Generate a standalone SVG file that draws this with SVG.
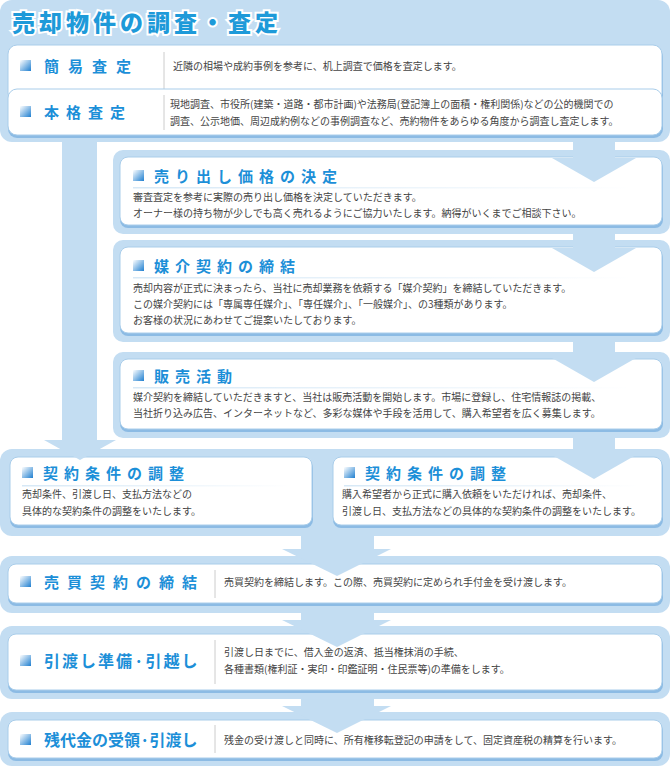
<svg xmlns="http://www.w3.org/2000/svg" width="670" height="766" viewBox="0 0 670 766">
<defs>
<linearGradient id="ic" x1="0" y1="0" x2="1" y2="1"><stop offset="0" stop-color="#ffffff"/><stop offset="1" stop-color="#1f7fd0"/></linearGradient>
<linearGradient id="ln" x1="0" x2="1"><stop offset="0" stop-color="#d6e8f6"/><stop offset="1" stop-color="#ffffff"/></linearGradient>
<style>
.fr{fill:#c3ddf2}
.bx{fill:#fff;stroke:#a9cdea;stroke-width:1}
.sh{fill:#8cbbe4}
.lb{font-family:"Noto Sans CJK JP",sans-serif;font-weight:bold;font-size:15px;fill:#1c8fd8;letter-spacing:6px}
.tx{font-family:"Noto Sans CJK JP",sans-serif;font-size:10px;fill:#444}
.dv{stroke:#ccc;stroke-width:1}
.ar{fill:#c3ddf2}
</style>
<g id="icon"><rect x="0" y="0" width="11" height="11" fill="url(#ic)"/></g>
</defs>
<g id="top">
<rect class="fr" x="0" y="0" width="670" height="142" rx="12"/>
<text x="12" y="31" font-family="Noto Sans CJK JP,sans-serif" font-weight="900" font-size="23" fill="#1e9ad9" stroke="#fff" stroke-width="4" paint-order="stroke" letter-spacing="4">売却物件の調査・査定</text>
</g>
<g id="kani">
<rect class="sh" x="8" y="48" width="655" height="56" rx="9"/>
<rect class="bx" x="8" y="45" width="654" height="57" rx="9"/>
<use href="#icon" x="20" y="60"/>
<text class="lb" x="44" y="72" style="letter-spacing:9px">簡易査定</text>
<line class="dv" x1="164" y1="52" x2="164" y2="97"/>
<text class="tx" x="173" y="70">近隣の相場や成約事例を参考に、机上調査で価格を査定します。</text>
</g>
<g id="honkaku">
<rect class="sh" x="8" y="92" width="655" height="46" rx="9"/>
<rect class="bx" x="8" y="89" width="654" height="46" rx="9"/>
<use href="#icon" x="20" y="106"/>
<text class="lb" x="44" y="118" style="letter-spacing:7px">本格査定</text>
<line class="dv" x1="164" y1="95" x2="164" y2="130"/>
<text class="tx" x="170" y="108">現地調査、市役所(建築・道路・都市計画)や法務局(登記簿上の面積・権利関係)などの公的機関での</text>
<text class="tx" x="170" y="125">調査、公示地価、周辺成約例などの事例調査など、売約物件をあらゆる角度から調査し査定します。</text>
</g>
<g id="uridashi">
<rect class="fr" x="113" y="150" width="557" height="84" rx="10"/>
<rect class="sh" x="120" y="160" width="543" height="68" rx="8"/>
<rect class="bx" x="120" y="157" width="542" height="68" rx="8"/>
<use href="#icon" x="133" y="170"/>
<text class="lb" x="154" y="182">売り出し価格の決定</text>
<rect x="133" y="187" width="500" height="1.5" fill="url(#ln)"/>
<text class="tx" x="133" y="201">審査査定を参考に実際の売り出し価格を決定していただきます。</text>
<text class="tx" x="133" y="217">オーナー様の持ち物が少しでも高く売れるようにご協力いたします。納得がいくまでご相談下さい。</text>
</g>
<g id="baikai">
<rect class="fr" x="113" y="240" width="557" height="102" rx="10"/>
<rect class="sh" x="120" y="250" width="543" height="86" rx="8"/>
<rect class="bx" x="120" y="247" width="542" height="86" rx="8"/>
<use href="#icon" x="133" y="260"/>
<text class="lb" x="154" y="272">媒介契約の締結</text>
<rect x="133" y="277" width="500" height="1.5" fill="url(#ln)"/>
<text class="tx" x="133" y="292">売却内容が正式に決まったら、当社に売却業務を依頼する「媒介契約」を締結していただきます。</text>
<text class="tx" x="133" y="308">この媒介契約には「専属専任媒介」、「専任媒介」、「一般媒介」、の3種類があります。</text>
<text class="tx" x="133" y="324">お客様の状況にあわせてご提案いたしております。</text>
</g>
<g id="hanbai">
<rect class="fr" x="113" y="352" width="557" height="86" rx="10"/>
<rect class="sh" x="120" y="362" width="543" height="70" rx="8"/>
<rect class="bx" x="120" y="359" width="542" height="70" rx="8"/>
<use href="#icon" x="133" y="370"/>
<text class="lb" x="154" y="382">販売活動</text>
<rect x="133" y="387" width="500" height="1.5" fill="url(#ln)"/>
<text class="tx" x="133" y="401">媒介契約を締結していただきますと、当社は販売活動を開始します。市場に登録し、住宅情報誌の掲載、</text>
<text class="tx" x="133" y="417">当社折り込み広告、インターネットなど、多彩な媒体や手段を活用して、購入希望者を広く募集します。</text>
</g>
<g id="chousei">
<rect class="fr" x="0" y="449" width="670" height="87" rx="12"/>
<rect class="sh" x="10" y="460" width="303" height="68" rx="8"/>
<rect class="bx" x="10" y="457" width="302" height="68" rx="8"/>
<use href="#icon" x="22" y="467"/>
<text class="lb" x="43" y="479">契約条件の調整</text>
<rect x="22" y="485" width="270" height="1.5" fill="url(#ln)"/>
<text class="tx" x="22" y="498">売却条件、引渡し日、支払方法などの</text>
<text class="tx" x="22" y="515">具体的な契約条件の調整をいたします。</text>
<rect class="sh" x="333" y="460" width="330" height="68" rx="8"/>
<rect class="bx" x="333" y="457" width="329" height="68" rx="8"/>
<use href="#icon" x="344" y="467"/>
<text class="lb" x="365" y="479">契約条件の調整</text>
<rect x="344" y="485" width="295" height="1.5" fill="url(#ln)"/>
<text class="tx" x="342" y="498">購入希望者から正式に購入依頼をいただければ、売却条件、</text>
<text class="tx" x="342" y="515">引渡し日、支払方法などの具体的な契約条件の調整をいたします。</text>
</g>
<g id="baibai">
<rect class="fr" x="0" y="556" width="670" height="57" rx="12"/>
<rect class="sh" x="8" y="567" width="655" height="39" rx="8"/>
<rect class="bx" x="8" y="564" width="654" height="39" rx="8"/>
<use href="#icon" x="20" y="576"/>
<text class="lb" x="44" y="588" style="letter-spacing:8px">売買契約の締結</text>
<line class="dv" x1="215" y1="570" x2="215" y2="598"/>
<text class="tx" x="224" y="586">売買契約を締結します。この際、売買契約に定められ手付金を受け渡します。</text>
</g>
<g id="hikiwatashi">
<rect class="fr" x="0" y="626" width="670" height="73" rx="12"/>
<rect class="sh" x="8" y="637" width="655" height="56" rx="8"/>
<rect class="bx" x="8" y="634" width="654" height="56" rx="8"/>
<use href="#icon" x="20" y="655"/>
<text class="lb" x="44" y="667" style="font-size:16px;letter-spacing:2px">引渡し準備·引越し</text>
<line class="dv" x1="215" y1="640" x2="215" y2="684"/>
<text class="tx" x="224" y="656">引渡し日までに、借入金の返済、抵当権抹消の手続、</text>
<text class="tx" x="224" y="673">各種書類(権利証・実印・印鑑証明・住民票等)の準備をします。</text>
</g>
<g id="zandai">
<rect class="fr" x="0" y="712" width="670" height="54" rx="12"/>
<rect class="sh" x="8" y="723" width="655" height="38" rx="8"/>
<rect class="bx" x="8" y="720" width="654" height="38" rx="8"/>
<use href="#icon" x="20" y="734"/>
<text class="lb" x="44" y="746" style="font-size:16px;letter-spacing:0px">残代金の受領·引渡し</text>
<line class="dv" x1="215" y1="725" x2="215" y2="753"/>
<text class="tx" x="224" y="744">残金の受け渡しと同時に、所有権移転登記の申請をして、固定資産税の精算を行います。</text>
</g>
<g id="connectors">
<rect class="ar" x="62" y="140" width="35" height="305"/>
<polygon class="ar" points="44,440 116,440 80,460"/>
<rect class="ar" x="573" y="140" width="42" height="20"/>
<polygon class="ar" points="552,158 636,158 594,182"/>
<rect class="ar" x="573" y="232" width="42" height="16"/>
<polygon class="ar" points="552,248 636,248 594,272"/>
<rect class="ar" x="573" y="340" width="42" height="20"/>
<polygon class="ar" points="552,358 636,358 594,382"/>
<rect class="ar" x="573" y="436" width="42" height="20"/>
<polygon class="ar" points="552,455 636,455 594,479"/>
<rect class="ar" x="301" y="534" width="73" height="16"/>
<polygon class="ar" points="282,549 391,549 337,576"/>
<rect class="ar" x="301" y="611" width="73" height="10"/>
<polygon class="ar" points="282,620 391,620 337,647"/>
<rect class="ar" x="301" y="697" width="73" height="10"/>
<polygon class="ar" points="282,706 391,706 337,733"/>
</g>
</svg>
